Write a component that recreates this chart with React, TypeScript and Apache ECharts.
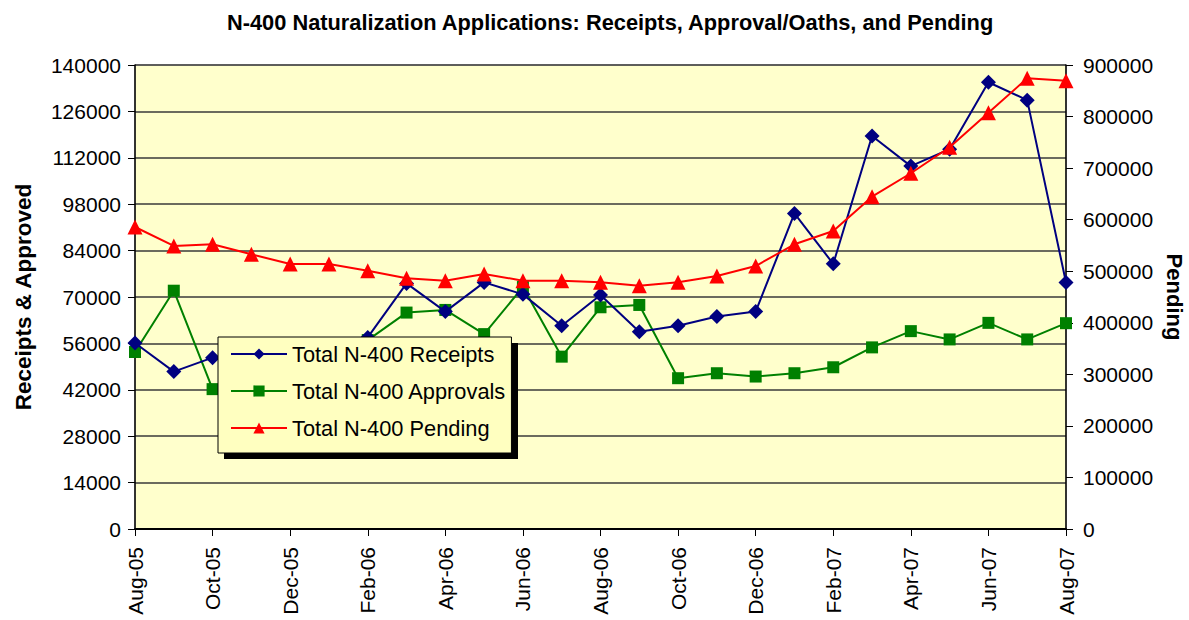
import React, { useEffect, useRef } from 'react';
import * as echarts from 'echarts';

const months = [
  'Aug-05', 'Sep-05', 'Oct-05', 'Nov-05', 'Dec-05', 'Jan-06', 'Feb-06', 'Mar-06', 'Apr-06',
  'May-06', 'Jun-06', 'Jul-06', 'Aug-06', 'Sep-06', 'Oct-06', 'Nov-06', 'Dec-06', 'Jan-07',
  'Feb-07', 'Mar-07', 'Apr-07', 'May-07', 'Jun-07', 'Jul-07', 'Aug-07',
];

const receipts = [
  56100, 47500, 51700, 53500, 54500, 54000, 57800, 74100, 65600,
  74400, 70800, 61300, 70600, 59500, 61300, 64100, 65600, 95200,
  80000, 118600, 109500, 114600, 134800, 129400, 74400,
];

const approvals = [
  53400, 71900, 42200, 49000, 56000, 52500, 57000, 65300, 66100,
  58800, 73000, 52000, 66900, 67600, 45500, 47000, 46000, 47000,
  48800, 54800, 59700, 57200, 62200, 57200, 62100,
];

const pending = [
  585800, 549000, 552200, 532800, 514000, 514000, 501000, 486200, 481700,
  494600, 481700, 481700, 478500, 472000, 478500, 490700, 510100, 552200,
  578000, 644600, 690000, 740400, 807500, 874200, 869600,
];

const FONT = 'Arial, "Liberation Sans", sans-serif';

export default function App() {
  const ref = useRef<HTMLDivElement>(null);
  useEffect(() => {
    if (!ref.current) return;
    const chart = echarts.init(ref.current, undefined, { renderer: 'svg' });
    chart.setOption({
      animation: false,
      backgroundColor: '#fff',
      textStyle: { fontFamily: FONT },
      title: {
        text: 'N-400 Naturalization Applications: Receipts, Approval/Oaths, and Pending',
        left: 222,
        top: 6,
        textStyle: { fontSize: 21.8, fontWeight: 'bold', color: '#000', fontFamily: FONT },
      },
      grid: {
        left: 135,
        right: 123,
        top: 65,
        bottom: 91,
        containLabel: false,
        outerBoundsMode: 'none',
        show: true,
        backgroundColor: '#FFFFCC',
        borderColor: '#999',
        borderWidth: 1,
      },
      legend: {
        orient: 'vertical',
        left: 218,
        top: 337,
        padding: [6, 5, 14, 12],
        itemGap: 15,
        itemWidth: 56,
        itemHeight: 14,
        backgroundColor: '#FFFFC0',
        borderColor: '#000',
        borderWidth: 1,
        textStyle: { fontSize: 21.8, color: '#000', fontFamily: FONT },
        data: ['Total N-400 Receipts', 'Total N-400 Approvals', 'Total N-400 Pending'],
        z: 10,
      },
      graphic: [
        {
          type: 'rect',
          z: 9,
          shape: { x: 224, y: 343, width: 294, height: 116 },
          style: { fill: '#000' },
        },
      ],
      xAxis: {
        type: 'category',
        data: months,
        boundaryGap: false,
        axisLine: { lineStyle: { color: '#000', width: 2 } },
        axisTick: { show: true, interval: 1, length: 7, lineStyle: { color: '#000', width: 1 } },
        axisLabel: {
          interval: 1,
          rotate: 90,
          fontSize: 21,
          color: '#000',
          margin: 18,
          fontFamily: FONT,
        },
        splitLine: { show: false },
      },
      yAxis: [
        {
          type: 'value',
          min: 0,
          max: 140000,
          interval: 14000,
          name: 'Receipts & Approved',
          nameLocation: 'middle',
          nameGap: 100,
          nameTextStyle: { fontSize: 22.5, fontWeight: 'bold', color: '#000', fontFamily: FONT },
          axisLine: { show: true, lineStyle: { color: '#000', width: 1.5 } },
          axisTick: { show: true, length: 7, lineStyle: { color: '#000' } },
          axisLabel: {
            fontSize: 21,
            color: '#000',
            margin: 14,
            fontFamily: FONT,
            formatter: (v: number) => String(v),
          },
          splitLine: { show: true, lineStyle: { color: '#3a3a3a', width: 1.5 } },
        },
        {
          type: 'value',
          min: 0,
          max: 900000,
          interval: 100000,
          position: 'right',
          name: 'Pending',
          nameLocation: 'middle',
          nameGap: 96,
          nameRotate: -90,
          nameTextStyle: { fontSize: 22, fontWeight: 'bold', color: '#000', fontFamily: FONT },
          axisLine: { show: true, lineStyle: { color: '#000', width: 1.5 } },
          axisTick: { show: true, length: 7, lineStyle: { color: '#000' } },
          axisLabel: {
            fontSize: 21,
            color: '#000',
            margin: 17,
            fontFamily: FONT,
            formatter: (v: number) => String(v),
          },
          splitLine: { show: false },
        },
      ],
      series: [
        {
          name: 'Total N-400 Receipts',
          type: 'line',
          yAxisIndex: 0,
          data: receipts,
          symbol: 'diamond',
          symbolSize: 15,
          lineStyle: { color: '#000080', width: 2 },
          itemStyle: { color: '#000080' },
          z: 4,
        },
        {
          name: 'Total N-400 Approvals',
          type: 'line',
          yAxisIndex: 0,
          data: approvals,
          symbol: 'rect',
          symbolSize: 12,
          lineStyle: { color: '#008000', width: 2 },
          itemStyle: { color: '#008000' },
          z: 3,
        },
        {
          name: 'Total N-400 Pending',
          type: 'line',
          yAxisIndex: 1,
          data: pending,
          symbol: 'triangle',
          symbolSize: 15,
          lineStyle: { color: '#FF0000', width: 2 },
          itemStyle: { color: '#FF0000' },
          z: 5,
        },
      ],
    });
    return () => chart.dispose();
  }, []);
  return (
    <div
      ref={ref}
      style={{ position: 'fixed', left: 0, top: 0, width: 1189, height: 620 }}
    />
  );
}
